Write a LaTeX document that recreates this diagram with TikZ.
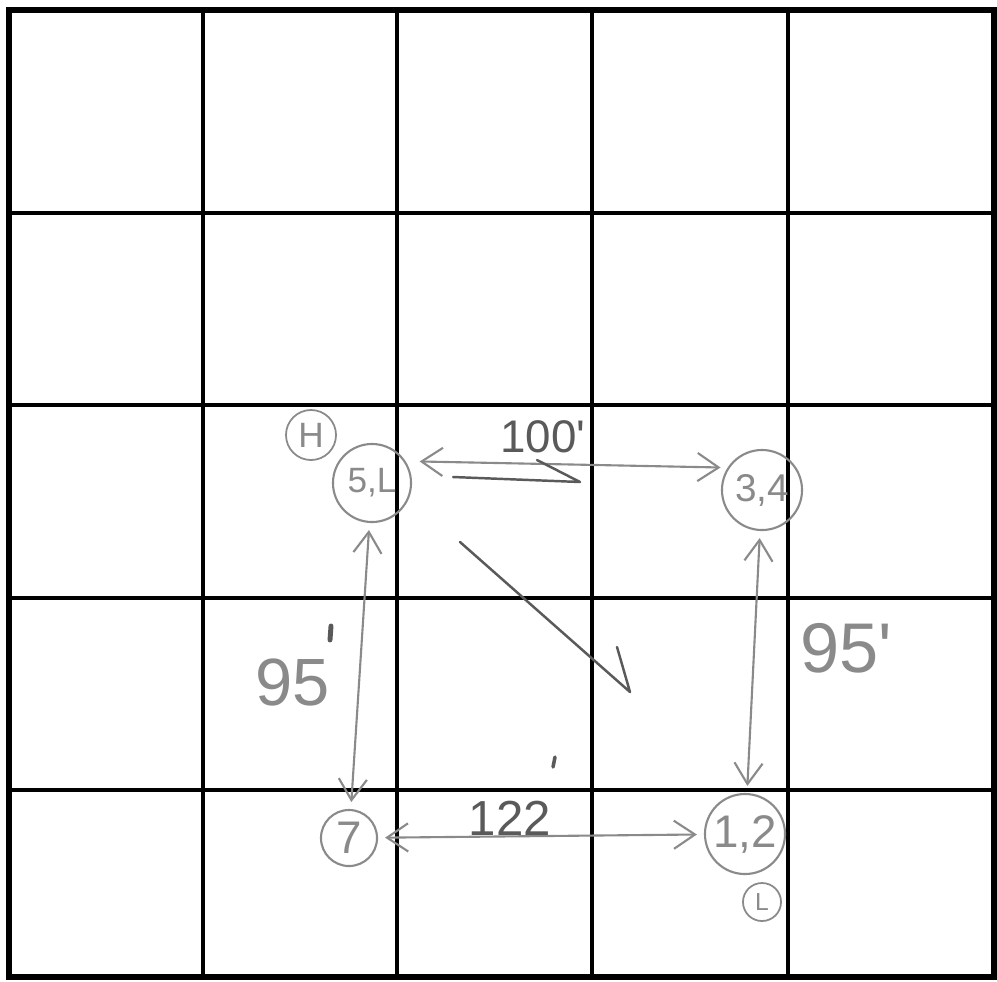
\documentclass[tikz,border=0pt]{standalone}
\usepackage{fontspec}
\setmainfont{Liberation Sans}
\usetikzlibrary{arrows.meta}
\definecolor{pencil}{HTML}{8A8A8A}
\definecolor{darkpencil}{HTML}{5A5A5A}
\begin{document}
\begin{tikzpicture}[x=0.01cm,y=-0.01cm,
  gridline/.style={line width=0.9pt,black},
  border/.style={line width=1.8pt,black},
  spot/.style={circle,draw=pencil,line width=0.6pt,text=pencil,inner sep=0pt},
  tag/.style={circle,draw=pencil,line width=0.5pt,text=pencil,inner sep=0pt},
  link/.style={draw=pencil,line width=0.6pt,shorten <=2pt,shorten >=2pt,
    {Straight Barb[length=6pt,width=8pt]}-{Straight Barb[length=6pt,width=8pt]}},
  pstroke/.style={draw=darkpencil,line width=0.7pt,line cap=round,line join=round},
  lab/.style={text=pencil,inner sep=0pt}
]
\useasboundingbox (0,0) rectangle (997,981);
\fill[white] (0,0) rectangle (997,981);
% grid
\foreach \x in {203,397,592,788} \draw[gridline] (\x,10) -- (\x,977);
\foreach \y in {213,405,598,790} \draw[gridline] (9,\y) -- (994,\y);
\draw[border] (9,10) rectangle (994,977);
% stations
\node[spot,minimum width=0.70cm,minimum height=0.78cm,font=\fontsize{10}{10}\selectfont] (a) at (372,483) {5,L};
\node[spot,minimum size=0.80cm,font=\fontsize{11}{11}\selectfont] (b) at (762,490) {3,4};
\node[spot,minimum size=0.56cm,font=\fontsize{13}{13}\selectfont] (c) at (349,838) {7};
\node[spot,minimum size=0.80cm,font=\fontsize{13}{13}\selectfont] (d) at (745,834) {1,2};
\node[tag,minimum width=0.45cm,minimum height=0.50cm,font=\fontsize{10}{10}\selectfont] (h) at (311,435) {H};
\node[tag,minimum size=0.38cm,font=\fontsize{7}{7}\selectfont] (l) at (762,902) {L};
% connectors
\draw[link,shorten <=4pt] (a.33) -- (b.147);
\draw[link] (a) -- (c);
\draw[link] (b) -- (d);
\draw[link] (c) -- (d);
% pencil strokes
\coordinate (h1) at (453,477);
\coordinate (h2) at (580,482);
\coordinate (h3) at (537,460);
\draw[pstroke] (h1) -- (h2) -- (h3);
\coordinate (d1) at (460,542);
\coordinate (d2) at (630,692);
\coordinate (d3) at (617,647);
\draw[pstroke] (d1) -- (d2) -- (d3);
\coordinate (t1) at (555,757);
\coordinate (t2) at (553,767);
\draw[pstroke,line width=1pt] (t1) -- (t2);
% labels
\node[lab,text=darkpencil,font=\fontsize{13}{13}\selectfont] (l100) at (543,437) {100\textquotesingle};
\node[lab,font=\fontsize{19}{19}\selectfont] (l95a) at (293,682) {95};
\coordinate (q1) at (331,626);
\coordinate (q2) at (330,640);
\draw[pstroke,line width=1.4pt] (q1) -- (q2);
\node[lab,font=\fontsize{20}{20}\selectfont] (l95b) at (846,648) {95\textquotesingle};
\node[lab,text=darkpencil,font=\fontsize{14}{14}\selectfont] (l122) at (510,818) {122};
\end{tikzpicture}
\end{document}
